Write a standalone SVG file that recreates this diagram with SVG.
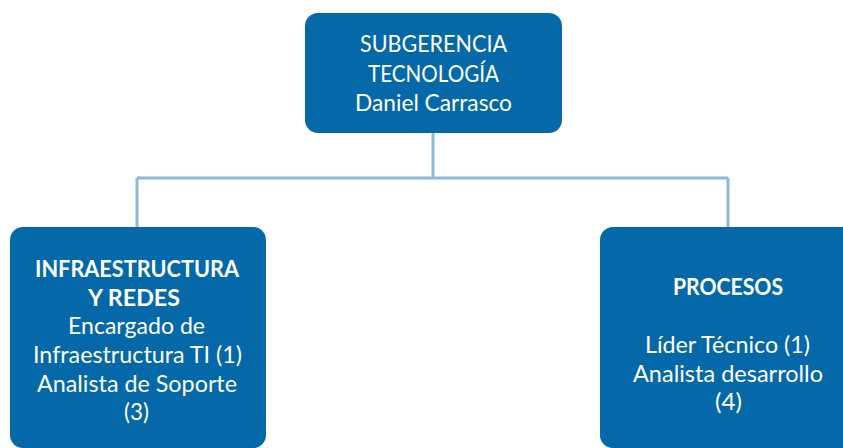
<svg xmlns="http://www.w3.org/2000/svg" width="843" height="448" viewBox="0 0 843 448">
<style>
.box{fill:#0568a8;}
.t{font-family:Lato,"Open Sans","Liberation Sans",sans-serif;font-size:22.5px;fill:#ffffff;text-anchor:middle;}
.b{font-weight:bold;font-size:22px;}
.c{fill:none;stroke:#8db9d9;stroke-width:3;}
</style>
<rect width="843" height="448" fill="#ffffff"/>
<g id="connectors">
<path class="c" d="M433,133 V178 M137,178 H728 M137,178 V227 M728,178 V227"/>
</g>
<g id="subgerencia">
<rect class="box" x="305" y="13" width="257" height="120" rx="13"/>
<text class="t" x="433.5" y="52" textLength="147" lengthAdjust="spacingAndGlyphs">SUBGERENCIA</text>
<text class="t" x="433.5" y="82" textLength="131" lengthAdjust="spacingAndGlyphs">TECNOLOGÍA</text>
<text class="t" x="433.5" y="111" textLength="157" lengthAdjust="spacingAndGlyphs">Daniel Carrasco</text>
</g>
<g id="infraestructura">
<rect class="box" x="10" y="227" width="256" height="221" rx="13"/>
<text class="t b" x="137" y="277" textLength="204" lengthAdjust="spacingAndGlyphs">INFRAESTRUCTURA</text>
<text class="t b" x="134" y="306" textLength="92" lengthAdjust="spacingAndGlyphs">Y REDES</text>
<text class="t" x="136.5" y="334" textLength="137" lengthAdjust="spacingAndGlyphs">Encargado de</text>
<text class="t" x="137.5" y="363" textLength="209" lengthAdjust="spacingAndGlyphs">Infraestructura TI (1)</text>
<text class="t" x="137" y="392" textLength="200" lengthAdjust="spacingAndGlyphs">Analista de Soporte</text>
<text class="t" x="136.5" y="420" textLength="25" lengthAdjust="spacingAndGlyphs">(3)</text>
</g>
<g id="procesos">
<rect class="box" x="600" y="227" width="256" height="221" rx="13"/>
<text class="t b" x="728" y="295" textLength="110" lengthAdjust="spacingAndGlyphs">PROCESOS</text>
<text class="t" x="727.5" y="353" textLength="165" lengthAdjust="spacingAndGlyphs">Líder Técnico (1)</text>
<text class="t" x="728" y="382" textLength="190" lengthAdjust="spacingAndGlyphs">Analista desarrollo</text>
<text class="t" x="728.5" y="410" textLength="27" lengthAdjust="spacingAndGlyphs">(4)</text>
</g>
</svg>
